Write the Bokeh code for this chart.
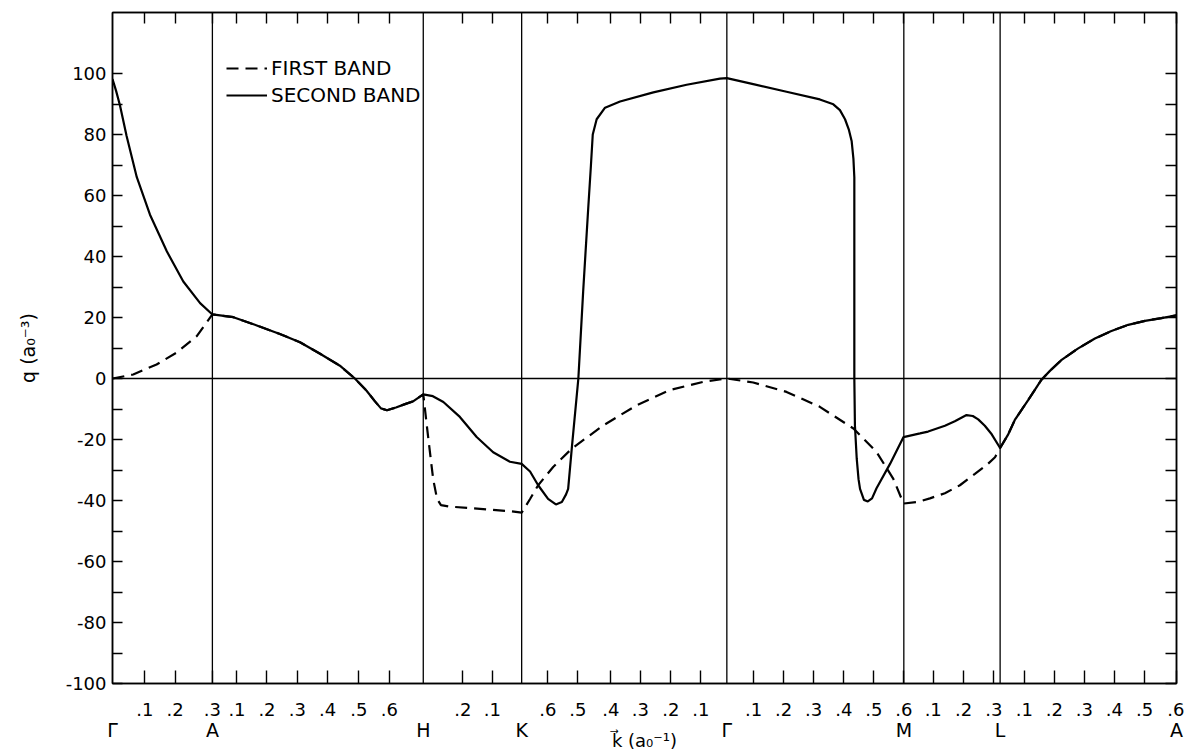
from bokeh.plotting import figure
from bokeh.models import (FixedTicker, LinearAxis, Span, Legend,
                          LegendItem, Range1d)
from bokeh.embed import file_html
from bokeh.resources import INLINE

FONT = "DejaVu Sans"

# symmetry points along the path (k in a0^-1, cumulative)
sym_k = [0.0, 0.333, 1.036, 1.364, 2.048, 2.638, 2.959, 3.547]
sym_labels = ["Γ", "A", "H", "K", "Γ", "M", "L", "A"]

# decimal tick marks along the path and their labels
k_ticks = [0.108, 0.209, 0.333, 0.415, 0.515, 0.616, 0.717, 0.821, 0.923,
           1.168, 1.266, 1.451, 1.551, 1.661, 1.760, 1.861, 1.961,
           2.137, 2.237, 2.337, 2.438, 2.538, 2.638, 2.736, 2.837, 2.938,
           3.040, 3.140, 3.240, 3.340, 3.441, 3.547]
k_tick_labels = [".1", ".2", ".3", ".1", ".2", ".3", ".4", ".5", ".6",
                 ".2", ".1", ".6", ".5", ".4", ".3", ".2", ".1",
                 ".1", ".2", ".3", ".4", ".5", ".6", ".1", ".2", ".3",
                 ".1", ".2", ".3", ".4", ".5", ".6"]

q_major = [-100, -80, -60, -40, -20, 0, 20, 40, 60, 80, 100]
q_minor = [-90, -70, -50, -30, -10, 10, 30, 50, 70, 90]

# first band (dashed)
band1_k = [0.000, 0.069, 0.147, 0.214, 0.281, 0.333,
           0.403, 0.481, 0.558, 0.625, 0.692, 0.758, 0.808, 0.847, 0.875,
           0.895, 0.915, 0.945, 0.975, 1.002, 1.036,
           1.052, 1.069, 1.082, 1.095, 1.125, 1.192, 1.258, 1.325, 1.364,
           1.392, 1.419, 1.469, 1.531, 1.636, 1.747, 1.858, 1.969, 2.048,
           2.136, 2.247, 2.358, 2.470, 2.547, 2.603, 2.637,
           2.683, 2.725, 2.775, 2.825, 2.875, 2.915, 2.942, 2.959,
           2.985, 3.008, 3.053, 3.097, 3.125, 3.164, 3.218, 3.275, 3.328,
           3.386, 3.442, 3.497, 3.547]
band1_q = [0.0, 1.3, 4.6, 8.5, 13.9, 21.0,
           20.1, 17.4, 14.6, 11.9, 8.1, 4.2, 0.0, -4.0, -7.5,
           -9.8, -10.4, -9.5, -8.4, -7.5, -5.2,
           -19.0, -33.0, -39.5, -41.5, -42.0, -42.5, -43.0, -43.5, -44.0,
           -39.5, -35.0, -29.0, -23.0, -15.4, -8.8, -3.8, -1.1, 0.0,
           -1.3, -4.4, -9.3, -16.4, -24.1, -32.9, -41.0,
           -40.5, -39.3, -37.6, -35.0, -31.3, -28.3, -25.8, -22.8,
           -18.5, -13.6, -7.0, -0.4, 2.5, 6.1, 9.8, 13.1, 15.5,
           17.6, 18.9, 19.8, 20.7]

# second band (solid)
band2_k = [0.000, 0.012, 0.025, 0.047, 0.081, 0.125, 0.181, 0.236, 0.292, 0.333,
           0.403, 0.481, 0.558, 0.625, 0.692, 0.758, 0.808, 0.847, 0.875,
           0.895, 0.915, 0.945, 0.975, 1.002, 1.036,
           1.068, 1.103, 1.158, 1.214, 1.269, 1.325, 1.364,
           1.392, 1.419, 1.452, 1.478, 1.498, 1.512, 1.519, 1.531, 1.553,
           1.569, 1.586, 1.595, 1.601, 1.614, 1.642, 1.692, 1.803, 1.914,
           2.025, 2.048,
           2.136, 2.247, 2.358, 2.403, 2.425, 2.442, 2.455, 2.464, 2.470,
           2.473, 2.473, 2.473, 2.475, 2.481, 2.487, 2.492, 2.505, 2.518,
           2.532, 2.547, 2.592, 2.637,
           2.692, 2.719, 2.775, 2.808, 2.847, 2.868, 2.886, 2.908, 2.931,
           2.959,
           2.985, 3.008, 3.053, 3.097, 3.125, 3.164, 3.218, 3.275, 3.328,
           3.386, 3.442, 3.497, 3.547]
band2_q = [98.2, 94.3, 89.5, 79.5, 66.0, 53.7, 41.7, 31.8, 24.7, 21.0,
           20.1, 17.4, 14.6, 11.9, 8.1, 4.2, 0.0, -4.0, -7.5,
           -9.8, -10.4, -9.5, -8.4, -7.5, -5.2,
           -5.8, -7.7, -12.6, -19.2, -24.2, -27.3, -28.0,
           -30.5, -35.0, -39.5, -41.3, -40.5, -38.0, -36.2, -23.0, 0.0,
           28.5, 56.0, 70.0, 80.0, 85.0, 88.8, 90.8, 93.8, 96.3,
           98.3, 98.5,
           96.5, 94.0, 91.5, 89.9, 88.0, 85.0, 81.5, 77.9, 72.0,
           66.0, 39.5, 0.0, -15.4, -26.3, -33.0, -36.2, -39.8, -40.3,
           -39.3, -36.0, -28.0, -19.2,
           -18.0, -17.4, -15.5, -14.0, -12.0, -12.3, -13.4, -15.5, -18.3,
           -22.8,
           -18.5, -13.6, -7.0, -0.4, 2.5, 6.1, 9.8, 13.1, 15.5,
           17.6, 18.9, 19.8, 20.7]

p = figure(width=1184, height=753,
           x_range=Range1d(sym_k[0], sym_k[-1]), y_range=Range1d(-100, 120),
           x_axis_type=None, y_axis_type=None,
           output_backend="svg", toolbar_location=None,
           min_border_left=112, min_border_right=8,
           min_border_top=12, min_border_bottom=70)
p.outline_line_color = "black"
p.outline_line_width = 1.5
p.background_fill_color = "white"
p.border_fill_color = "white"


def style_axis(ax, tick_in, size="18px"):
    ax.major_tick_in = tick_in
    ax.major_tick_out = 0
    ax.minor_tick_in = tick_in
    ax.minor_tick_out = 0
    ax.axis_line_color = "black"
    ax.axis_line_width = 1.5
    ax.major_tick_line_color = "black"
    ax.major_tick_line_width = 1.4
    ax.minor_tick_line_color = "black"
    ax.minor_tick_line_width = 1.4
    ax.major_label_text_font = FONT
    ax.major_label_text_font_size = size
    ax.major_label_text_color = "black"


# bottom: decimal ticks
xb = LinearAxis(ticker=FixedTicker(ticks=k_ticks))
style_axis(xb, 13)
xb.major_label_overrides = {t: l for t, l in zip(k_ticks, k_tick_labels)}
xb.major_label_standoff = 19
p.add_layout(xb, "below")

# bottom: symmetry point names + axis title
xs = LinearAxis(ticker=FixedTicker(ticks=sym_k))
style_axis(xs, 0, "19px")
xs.axis_line_color = None
xs.major_tick_line_color = None
xs.minor_tick_line_color = None
xs.major_label_overrides = {t: l for t, l in zip(sym_k, sym_labels)}
xs.major_label_standoff = 0
xs.axis_label = "k\u20d7 (a₀⁻¹)"
xs.axis_label_text_font = FONT
xs.axis_label_text_font_size = "18px"
xs.axis_label_text_font_style = "normal"
xs.axis_label_text_color = "black"
xs.axis_label_standoff = -14
p.add_layout(xs, "below")

# top ticks
xt = LinearAxis(ticker=FixedTicker(ticks=k_ticks))
style_axis(xt, 11)
xt.major_label_overrides = {t: "" for t in k_ticks}
xt.major_label_standoff = 0
p.add_layout(xt, "above")

# left axis
yl = LinearAxis(ticker=FixedTicker(ticks=q_major, minor_ticks=q_minor))
style_axis(yl, 10)
yl.major_label_overrides = {t: str(t) for t in q_major}
yl.major_label_standoff = 6
yl.axis_label = "q (a₀⁻³)"
yl.axis_label_text_font = FONT
yl.axis_label_text_font_size = "19px"
yl.axis_label_text_font_style = "normal"
yl.axis_label_text_color = "black"
yl.axis_label_standoff = 24
p.add_layout(yl, "left")

# right ticks
yr = LinearAxis(ticker=FixedTicker(ticks=q_major, minor_ticks=q_minor))
style_axis(yr, 11)
yr.major_label_overrides = {t: "" for t in q_major}
yr.major_label_standoff = 0
p.add_layout(yr, "right")

# vertical lines at symmetry points and zero line
for s in sym_k[1:-1]:
    p.add_layout(Span(location=s, dimension="height", line_color="black",
                      line_width=1.3))
p.add_layout(Span(location=0, dimension="width", line_color="black",
                  line_width=1.3))

r1 = p.line(band1_k, band1_q, line_color="black", line_width=2.2,
            line_dash="12 7")
r2 = p.line(band2_k, band2_q, line_color="black", line_width=2.2)

legend = Legend(items=[LegendItem(label="FIRST BAND", renderers=[r1]),
                       LegendItem(label="SECOND BAND", renderers=[r2])],
                location=(114, 576))
legend.border_line_color = None
legend.background_fill_alpha = 0
legend.glyph_width = 41
legend.glyph_height = 20
legend.label_standoff = 4
legend.padding = 5
legend.spacing = 3
legend.margin = 0
legend.label_text_font = FONT
legend.label_text_font_size = "20px"
legend.label_text_color = "black"
p.add_layout(legend)

open("out.html", "w").write(file_html(p, INLINE))
